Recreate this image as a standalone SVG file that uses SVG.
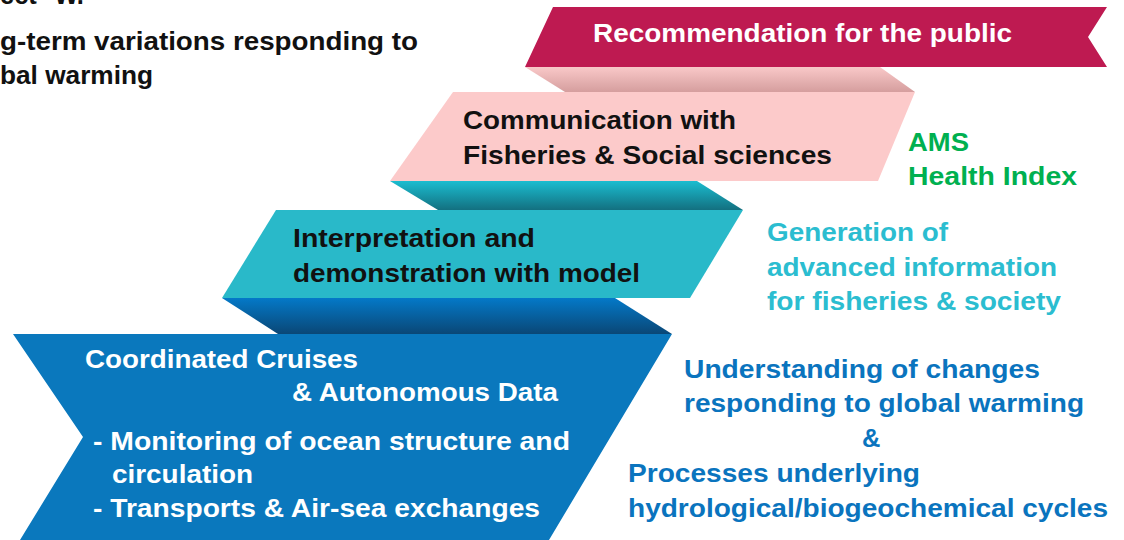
<svg xmlns="http://www.w3.org/2000/svg" width="1124" height="540" viewBox="0 0 1124 540">
<defs>
<linearGradient id="gPink" x1="0" y1="0" x2="0" y2="1"><stop offset="0" stop-color="#f9c8c8"/><stop offset="1" stop-color="#d59e9e"/></linearGradient>
<linearGradient id="gTeal" x1="0" y1="0" x2="0" y2="1"><stop offset="0" stop-color="#1bbdd0"/><stop offset="1" stop-color="#137080"/></linearGradient>
<linearGradient id="gBlue" x1="0" y1="0" x2="0" y2="1"><stop offset="0" stop-color="#0479c8"/><stop offset="1" stop-color="#0a4776"/></linearGradient>
</defs>
<style>
text{font-family:"Liberation Sans",Arial,sans-serif;font-weight:bold;font-size:25.5px}
.k{fill:#111111}
.w{fill:#ffffff}
.g{fill:#00b050}
.t{fill:#2bbdd0}
.b{fill:#0a74be}
</style>
<rect width="1124" height="540" fill="#ffffff"/>
<g id="header">
<text class="k" x="0" y="4" font-size="22">ect  °W.</text>
<text class="k" x="0" y="50" font-size="22" textLength="418" lengthAdjust="spacingAndGlyphs">g-term variations responding to</text>
<text class="k" x="0" y="84" font-size="22" textLength="153" lengthAdjust="spacingAndGlyphs">bal warming</text>
</g>
<g id="folds">
<path d="M525,67 L880,67 L915,92 L565,92 Z" fill="url(#gPink)"/>
<path d="M390,181 L697,181 L743,210 L438,210 Z" fill="url(#gTeal)"/>
<path d="M222,298 L615,298 L672,334 L278,334 Z" fill="url(#gBlue)"/>
</g>
<g id="recommendation">
<path d="M553,7 L1107,7 L1088,37 L1107,67 L525,67 Z" fill="#be1a51"/>
<text class="w" x="593" y="42" font-size="27" textLength="419" lengthAdjust="spacingAndGlyphs">Recommendation for the public</text>
</g>
<g id="communication">
<path d="M453,92 L915,92 L878,181 L390,181 Z" fill="#fccaca"/>
<text class="k" x="463" y="129" textLength="273" lengthAdjust="spacingAndGlyphs">Communication with</text>
<text class="k" x="463" y="164" textLength="369" lengthAdjust="spacingAndGlyphs">Fisheries &amp; Social sciences</text>
</g>
<g id="interpretation">
<path d="M276,210 L743,210 L690,298 L222,298 Z" fill="#29b9c9"/>
<text class="k" x="293" y="247" textLength="242" lengthAdjust="spacingAndGlyphs">Interpretation and</text>
<text class="k" x="293" y="282" textLength="347" lengthAdjust="spacingAndGlyphs">demonstration with model</text>
</g>
<g id="cruises">
<path d="M13,334 L672,334 L549,540 L20,540 L83,437 Z" fill="#0a78bd"/>
<text class="w" x="85" y="368" textLength="273" lengthAdjust="spacingAndGlyphs">Coordinated Cruises</text>
<text class="w" x="292" y="401" textLength="266" lengthAdjust="spacingAndGlyphs">&amp; Autonomous Data</text>
<text class="w" x="93" y="450" textLength="477" lengthAdjust="spacingAndGlyphs">- Monitoring of  ocean structure and</text>
<text class="w" x="112" y="483" textLength="141" lengthAdjust="spacingAndGlyphs">circulation</text>
<text class="w" x="93" y="517" textLength="447" lengthAdjust="spacingAndGlyphs">- Transports &amp; Air-sea exchanges</text>
</g>
<g id="ams">
<text class="g" x="908" y="151" textLength="61" lengthAdjust="spacingAndGlyphs">AMS</text>
<text class="g" x="908" y="185" textLength="169" lengthAdjust="spacingAndGlyphs">Health Index</text>
</g>
<g id="generation">
<text class="t" x="767" y="241" textLength="181" lengthAdjust="spacingAndGlyphs">Generation of</text>
<text class="t" x="767" y="276" textLength="290" lengthAdjust="spacingAndGlyphs">advanced information</text>
<text class="t" x="767" y="310" textLength="294" lengthAdjust="spacingAndGlyphs">for fisheries &amp; society</text>
</g>
<g id="understanding">
<text class="b" x="684" y="378" textLength="356" lengthAdjust="spacingAndGlyphs">Understanding of  changes</text>
<text class="b" x="684" y="412" textLength="400" lengthAdjust="spacingAndGlyphs">responding to global warming</text>
<text class="b" x="862" y="447">&amp;</text>
<text class="b" x="628" y="482" textLength="292" lengthAdjust="spacingAndGlyphs">Processes underlying</text>
<text class="b" x="628" y="517" textLength="480" lengthAdjust="spacingAndGlyphs">hydrological/biogeochemical cycles</text>
</g>
</svg>
